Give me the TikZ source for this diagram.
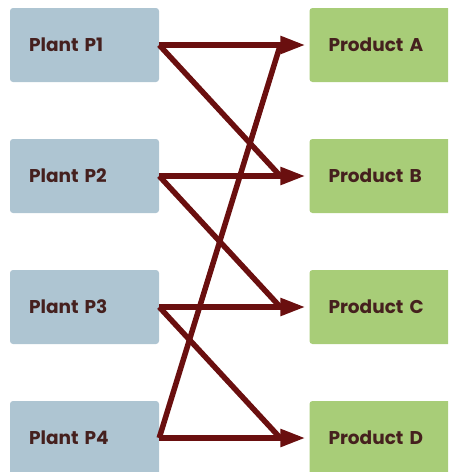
\documentclass[tikz,border=0pt]{standalone}
\usepackage{fontspec}
\setmainfont{Poppins}
\usetikzlibrary{arrows.meta}
\definecolor{plantblue}{HTML}{AEC5D2}
\definecolor{prodgreen}{HTML}{A8CD78}
\definecolor{flowred}{HTML}{6A0F0F}
\definecolor{labelbrown}{HTML}{45201E}
\tikzset{
  box/.style={rounded corners=3pt, minimum height=74pt, inner xsep=19pt,
    text width=111pt, align=left, text=labelbrown, font=\fontsize{18.5}{21}\selectfont\bfseries},
  plantbox/.style={box, fill=plantblue},
  prodbox/.style={box, fill=prodgreen},
  flow/.style={draw=flowred, line width=5.5pt},
  tip/.style={-{Triangle[length=25pt,width=17pt]}, shorten >=4pt}
}
\begin{document}
\begin{tikzpicture}[x=1pt,y=-1pt]
        \clip (0,0) rectangle (448,472);
        \foreach \i/\n in {1/A, 2/B, 3/C, 4/D}{
          \node[plantbox] (plant\i) at (84.5, 45+131*\i-131) {Plant P\i};
          \node[prodbox] (prod\i) at (384, 45+131*\i-131) {Product \n};
          \coordinate (end\i) at ([xshift=-29pt]prod\i.west);
          }

        % straight flows
        \foreach \i in {1, 2, 3, 4}{
          \draw[flow, tip] (plant\i.east) -- (prod\i.west);
          }

        % crossing flows
        \draw[flow] (plant1.east) -- (end2);
        \draw[flow] (plant2.east) -- (end3);
        \draw[flow] (plant3.east) -- (end4);
        \draw[flow] (plant4.east) -- (end1);
      \end{tikzpicture}
\end{document}
